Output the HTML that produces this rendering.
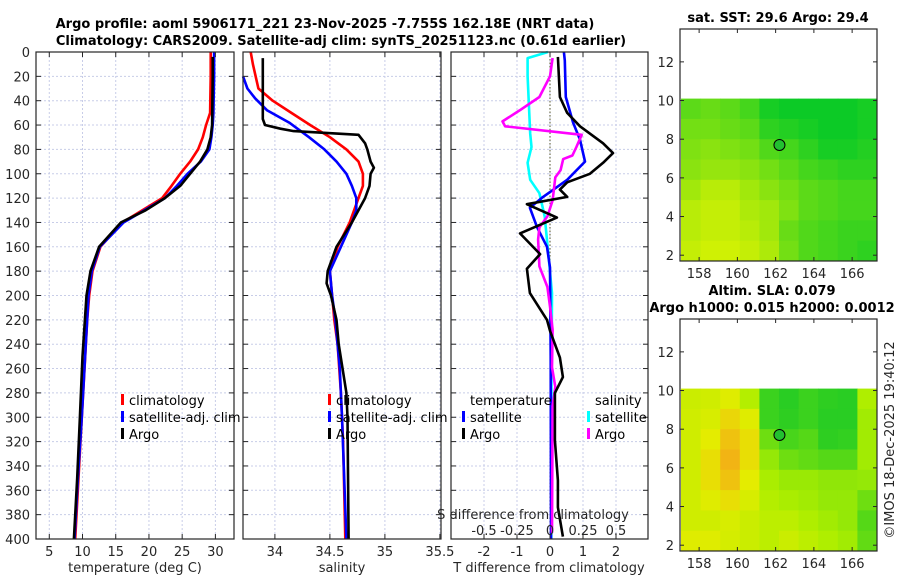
<!DOCTYPE html>
<html><head><meta charset="utf-8">
<style>
html,body{margin:0;padding:0;background:#fff;}
svg{display:block;font-family:"DejaVu Sans","Liberation Sans",sans-serif;}
</style></head>
<body>
<svg id="fig" width="900" height="580" viewBox="0 0 900 580"></svg>
<script>
// ---------- data ----------
const depthTicks=[0,20,40,60,80,100,120,140,160,180,200,220,240,260,280,300,320,340,360,380,400];
const tTicks=[5,10,15,20,25,30];
const sTicks=[34,34.5,35,35.5];
const dtTicks=[-2,-1,0,1,2];
const dsTicks=[-0.5,-0.25,0,0.25,0.5];
const dsTickLabels=["-0.5","-0.25","0","0.25","0.5"];

const tClimDepth=[0,20,50,60,70,80,90,100,110,120,140,160,180,200,220,250,300,350,400];
const tClimVal=[29.3,29.3,29.2,28.6,28.1,27.4,26.2,24.7,23.4,22,16,12.7,11.5,11,10.7,10.4,9.9,9.4,8.9];
const tSatDepth=[0,20,50,60,70,80,90,100,110,120,140,160,180,200,240,300,350,400];
const tSatVal=[29.8,29.8,29.7,29.6,29.4,29.1,27.8,25.8,24.2,22.4,16.2,12.6,11.4,10.9,10.5,9.9,9.3,8.8];
const tArgoDepth=[4,20,60,70,80,90,100,110,120,130,140,160,180,200,250,300,350,400];
const tArgoVal=[29.6,29.6,29.5,29.3,28.8,27.7,26.2,24.7,22.4,19.5,15.8,12.5,11.2,10.6,10,9.6,9.2,8.7];

const sClimDepth=[0,10,30,40,50,60,70,80,90,100,110,120,140,160,180,200,220,240,280,320,400];
const sClimVal=[33.78,33.8,33.85,33.98,34.15,34.32,34.5,34.65,34.76,34.8,34.8,34.76,34.68,34.57,34.5,34.52,34.54,34.57,34.6,34.62,34.64];
const sSatDepth=[20,30,38,48,58,70,80,90,100,110,120,130,140,160,180,200,220,260,300,400];
const sSatVal=[33.71,33.75,33.82,33.93,34.13,34.31,34.45,34.56,34.65,34.7,34.74,34.74,34.7,34.6,34.5,34.52,34.55,34.59,34.61,34.65];
const sArgoDepth=[5,30,55,60,63,65,68,75,80,90,95,100,110,120,140,160,180,190,200,220,240,280,300,400];
const sArgoVal=[33.89,33.89,33.89,33.91,34.05,34.17,34.76,34.82,34.84,34.87,34.9,34.87,34.86,34.82,34.7,34.56,34.48,34.47,34.51,34.56,34.58,34.65,34.66,34.67];

const dtArgoDepth=[4,37,50,61,75,83,91,100,107,113,119,125,136,149,166,178,198,220,229,251,267,280,319,352,374,398];
const dtArgoVal=[0.24,0.3,0.52,0.91,1.61,1.91,1.61,1.21,0.52,0.3,0.52,-0.7,0.21,-0.91,-0.3,-0.7,-0.61,-0.09,0,0.3,0.39,0.15,0.15,0.24,0.24,0.39];
const dtSatDepth=[0,7,37,58,72,90,105,119,128,144,160,177,250,400];
const dtSatVal=[0.42,0.45,0.48,0.7,0.91,1.06,0.52,-0.21,-0.61,-0.39,-0.09,0,0.02,0.03];
const dsSatDepth=[0,5,20,67,78,91,105,116,135,163,198,300,400];
const dsSatVal=[-0.015,-0.17,-0.17,-0.15,-0.14,-0.17,-0.15,-0.08,-0.04,-0.015,0.015,0.01,0.01];
const dsArgoDepth=[5,20,37,48,57,61,68,78,85,88,97,103,122,135,144,154,176,193,209,228,259,275,291,395];
const dsArgoVal=[0.02,0,-0.08,-0.23,-0.36,-0.34,0.24,0.2,0.17,0.1,0.08,0.04,0.02,-0.02,-0.08,-0.09,-0.08,-0.02,0,0.02,0.015,0.04,0.02,0.015];

const lonTicks=[158,160,162,164,166];
const latTicks=[2,4,6,8,10,12];
const sstGrid=[
[.4,.45,.4,.3,.1,.05,.05,.05,.05,.1],
[.5,.5,.45,.4,.2,.15,.1,.05,.05,.1],
[.55,.6,.55,.5,.35,.3,.2,.1,.1,.15],
[.6,.65,.65,.6,.5,.4,.3,.25,.2,.2],
[.7,.8,.8,.7,.6,.5,.4,.35,.3,.3],
[.8,.85,.85,.75,.7,.55,.4,.35,.3,.3],
[.8,.85,.85,.8,.7,.45,.35,.3,.25,.25],
[.85,.9,.9,.85,.75,.5,.35,.3,.25,.2]];
const slaGrid=[
[.7,.72,.78,.62,.15,.08,.15,.1,.08,.6],
[.72,.75,.88,.78,.15,.1,.15,.08,.08,.55],
[.72,.8,.95,.85,.35,.2,.25,.1,.12,.55],
[.72,.85,1,.85,.5,.35,.3,.25,.25,.55],
[.72,.85,.95,.8,.58,.52,.52,.48,.48,.5],
[.72,.78,.85,.75,.62,.58,.55,.5,.5,.35],
[.72,.72,.75,.7,.65,.65,.6,.55,.5,.25],
[.78,.78,.74,.7,.65,.7,.65,.6,.55,.3]];
const argoLon=[162.2];
const argoLat=[7.7];

// ---------- helpers ----------
const NS="http://www.w3.org/2000/svg";
const svg=document.getElementById('fig');
function el(tag,attrs,parent){const e=document.createElementNS(NS,tag);for(const k in attrs)e.setAttribute(k,attrs[k]);(parent||svg).appendChild(e);return e;}
function txt(x,y,s,attrs,parent){const e=el('text',Object.assign({x:x,y:y,'font-size':13,fill:'#262626'},attrs||{}),parent);e.textContent=s;return e;}

const PY0=52,PY1=539;
const yD=d=>PY0+d/400*(PY1-PY0);
const panels=[
 {x0:36,x1:234,min:3,max:32.8,name:'temperature-panel'},
 {x0:243,x1:441,min:33.71,max:35.51,name:'salinity-panel'},
 {x0:451,x1:648,min:-3,max:2.97,name:'difference-panel'}];
const xs=(p,v)=>p.x0+(v-p.min)/(p.max-p.min)*(p.x1-p.x0);
const xdS=v=>550+v*132;

function grid(p,xt,xfn){
  const g=el('g',{});
  
  
  depthTicks.forEach(d=>el('line',{x1:p.x0,x2:p.x1,y1:yD(d),y2:yD(d),stroke:'#c8cde8','stroke-width':1,'stroke-dasharray':'2,2'},g));
  xt.forEach(v=>el('line',{x1:xfn(v),x2:xfn(v),y1:PY0,y2:PY1,stroke:'#c8cde8','stroke-width':1,'stroke-dasharray':'2,2'},g));
}
function frame(p,xt,xfn){
  const g=el('g',{});
  
  
  el('rect',{x:p.x0,y:PY0,width:p.x1-p.x0,height:PY1-PY0,fill:'none',stroke:'#262626','stroke-width':1.2},g);
  depthTicks.forEach(d=>{el('line',{x1:p.x0,x2:p.x0+5,y1:yD(d),y2:yD(d),stroke:'#262626'},g);el('line',{x1:p.x1-5,x2:p.x1,y1:yD(d),y2:yD(d),stroke:'#262626'},g);});
  xt.forEach(v=>{el('line',{x1:xfn(v),x2:xfn(v),y1:PY1,y2:PY1-5,stroke:'#262626'},g);el('line',{x1:xfn(v),x2:xfn(v),y1:PY0,y2:PY0+5,stroke:'#262626'},g);});
}
function line(depths,vals,xfn,color,name){
  const pts=depths.map((d,i)=>xfn(vals[i]).toFixed(1)+','+yD(d).toFixed(1)).join(' ');
  const e=el('polyline',{points:pts,fill:'none',stroke:color,'stroke-width':2.6,'stroke-linejoin':'round'});
  
  
}

const P1=panels[0],P2=panels[1],P3=panels[2];
const x1f=v=>xs(P1,v),x2f=v=>xs(P2,v),x3f=v=>xs(P3,v);
grid(P1,tTicks,x1f);grid(P2,sTicks,x2f);grid(P3,dtTicks,x3f);
const zl=el('line',{x1:x3f(0),x2:x3f(0),y1:PY0,y2:PY1,stroke:'#55552a','stroke-width':1,'stroke-dasharray':'1.5,2'});



line(tClimDepth,tClimVal,x1f,'#ff0000','temperature-climatology-line');
line(tSatDepth,tSatVal,x1f,'#0000ff','temperature-satellite-line');
line(tArgoDepth,tArgoVal,x1f,'#000000','temperature-argo-line');
line(sClimDepth,sClimVal,x2f,'#ff0000','salinity-climatology-line');
line(sSatDepth,sSatVal,x2f,'#0000ff','salinity-satellite-line');
line(sArgoDepth,sArgoVal,x2f,'#000000','salinity-argo-line');
line(dsSatDepth,dsSatVal,xdS,'#00ffff','salinity-satellite-diff-line');
line(dtSatDepth,dtSatVal,x3f,'#0000ff','temperature-satellite-diff-line');
line(dsArgoDepth,dsArgoVal,xdS,'#ff00ff','salinity-argo-diff-line');
line(dtArgoDepth,dtArgoVal,x3f,'#000000','temperature-argo-diff-line');

frame(P1,tTicks,x1f);frame(P2,sTicks,x2f);frame(P3,dtTicks,x3f);

depthTicks.forEach(d=>{const t=txt(30,yD(d)+5,String(d),{'text-anchor':'end'});
  
  });
tTicks.forEach(v=>{const t=txt(x1f(v),556,String(v),{'text-anchor':'middle'});
  
  });
sTicks.forEach(v=>{const t=txt(x2f(v),556,String(v),{'text-anchor':'middle'});
  
  });
dtTicks.forEach(v=>{const t=txt(x3f(v),556,String(v),{'text-anchor':'middle'});
  
  });
dsTicks.forEach((v,i)=>{const t=txt(xdS(v),535,dsTickLabels[i],{'text-anchor':'middle'});
  
  });
let t;
t=txt(135,572,'temperature (deg C)',{'text-anchor':'middle'});
t=txt(342,572,'salinity',{'text-anchor':'middle'});
t=txt(549,572,'T difference from climatology',{'text-anchor':'middle'});
t=txt(533,519,'S difference from climatology',{'text-anchor':'middle'});

t=txt(325,28,'Argo profile: aoml 5906171_221 23-Nov-2025 -7.755S 162.18E (NRT data)',{'text-anchor':'middle','font-weight':'bold','fill':'#000'});

t=txt(341,45,'Climatology: CARS2009. Satellite-adj clim: synTS_20251123.nc (0.61d earlier)',{'text-anchor':'middle','font-weight':'bold','fill':'#000'});


function legItem(x,y,color,label,name){
  const g=el('g',{});
  
  
  el('rect',{x:x,y:y-11,width:3,height:11,fill:color},g);
  txt(x+8,y,label,{fill:'#000'},g);
}
function legText(x,y,label,name){const tt=txt(x,y,label,{fill:'#000'});}
legItem(121,405,'#ff0000','climatology','legend-entry-climatology');
legItem(121,422,'#0000ff','satellite-adj. clim','legend-entry-satellite-clim');
legItem(121,439,'#000','Argo','legend-entry-argo');
legItem(328,405,'#ff0000','climatology','legend-entry-climatology-2');
legItem(328,422,'#0000ff','satellite-adj. clim','legend-entry-satellite-clim-2');
legItem(328,439,'#000','Argo','legend-entry-argo-2');
legText(470,405,'temperature','legend-title-temperature');
legItem(462,422,'#0000ff','satellite','legend-entry-t-satellite');
legItem(462,439,'#000','Argo','legend-entry-t-argo');
legText(595,405,'salinity','legend-title-salinity');
legItem(587,422,'#00ffff','satellite','legend-entry-s-satellite');
legItem(587,439,'#ff00ff','Argo','legend-entry-s-argo');

// ---------- maps ----------
function mapPanel(top,grid,cmap,name,titles){
  const X0=680,X1=877,Y0=top,Y1=top+232;
  const lonX=v=>X0+(v-157)/(167.3-157)*(X1-X0);
  const latY=v=>Y0+(13.7-v)/(13.7-1.7)*(Y1-Y0);
  const g=el('g',{});
  
  
  const gy0=latY(10.1),gy1=Y1,gx0=X0+1,gx1=X1;
  const rows=grid.length,cols=grid[0].length;
  const cw=(gx1-gx0)/cols,ch=(gy1-gy0)/rows;
  grid.forEach((row,r)=>row.forEach((v,c)=>{
    el('rect',{x:gx0+c*cw,y:gy0+r*ch,width:cw+0.5,height:ch+0.5,fill:cmap(v)},g);
  }));
  el('rect',{x:X0,y:Y0,width:X1-X0,height:Y1-Y0,fill:'none',stroke:'#262626','stroke-width':1.2},g);
  lonTicks.forEach(v=>{el('line',{x1:lonX(v),x2:lonX(v),y1:Y1,y2:Y1-4,stroke:'#262626'},g);el('line',{x1:lonX(v),x2:lonX(v),y1:Y0,y2:Y0+4,stroke:'#262626'},g);
    txt(lonX(v),Y1+17,String(v),{'text-anchor':'middle'},g);});
  latTicks.forEach(v=>{el('line',{x1:X0,x2:X0+4,y1:latY(v),y2:latY(v),stroke:'#262626'},g);el('line',{x1:X1-4,x2:X1,y1:latY(v),y2:latY(v),stroke:'#262626'},g);
    txt(X0-6,latY(v)+5,String(v),{'text-anchor':'end'},g);});
  argoLon.forEach((lo,i)=>{const m=el('circle',{cx:lonX(lo),cy:latY(argoLat[i]),r:5.5,fill:'#22c030',stroke:'#000','stroke-width':1},g);
    
    });
  titles.forEach((s,i)=>txt(titles.length===1?778:772,top-7-(titles.length-1-i)*17,s,{'text-anchor':'middle','font-weight':'bold',fill:'#000'},g));
}
const mix=(a,b,f)=>a.map((x,i)=>Math.round(x+(b[i]-x)*f));
const rgb=c=>'rgb('+c.join(',')+')';
const sstMap=v=>rgb(mix([0,200,40],[230,245,0],v));
const slaMap=v=>{
  if(v<0.6) return rgb(mix([20,200,40],[175,238,0],v/0.6));
  if(v<0.8) return rgb(mix([175,238,0],[228,236,0],(v-0.6)/0.2));
  return rgb(mix([228,236,0],[242,180,20],(v-0.8)/0.2));
};
mapPanel(29,sstGrid,sstMap,'sst-map',['sat. SST: 29.6 Argo: 29.4']);
mapPanel(319,slaGrid,slaMap,'sla-map',['Altim. SLA: 0.079','Argo h1000: 0.015 h2000: 0.0012']);

t=txt(0,0,'©IMOS 18-Dec-2025 19:40:12',{'text-anchor':'middle',transform:'translate(894,440) rotate(-90)'});

</script>
</body></html>
